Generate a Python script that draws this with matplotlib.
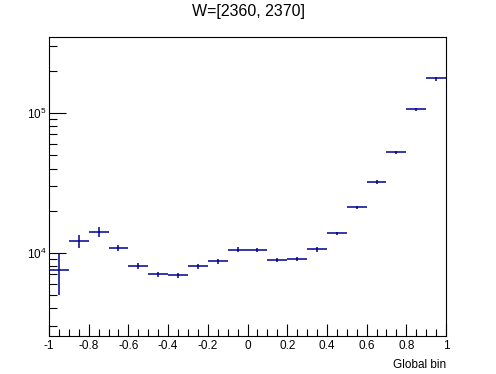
import numpy as np
import matplotlib
matplotlib.use("Agg")
import matplotlib.pyplot as plt
from matplotlib.ticker import MultipleLocator, LogLocator, NullFormatter, FixedLocator

plt.rcParams['font.family'] = ['Liberation Sans', 'DejaVu Sans']
plt.rcParams['mathtext.fontset'] = 'custom'
plt.rcParams['mathtext.rm'] = 'Liberation Sans'
plt.rcParams['mathtext.default'] = 'regular'

# bin edges and contents
edges = np.linspace(-1, 1, 21)
counts = [7520, 12060, 14130, 10860, 8075, 7015, 6900, 8000, 8680, 10500,
          10500, 8825, 8970, 10570, 13760, 21100, 32150, 52100, 105800, 176000]
errors = [2500, 1300, 1130, 510, 400, 315, 290, 300, 320, 430,
          320, 290, 300, 400, 410, 640, 900, 1450, 3200, 5800]

centers = 0.5 * (edges[:-1] + edges[1:])
halfw = 0.5 * np.diff(edges)

fig = plt.figure(figsize=(4.96, 3.74), dpi=100)
ax = fig.add_axes([0.0988, 0.1024, 0.8004, 0.7976])

ax.errorbar(centers, counts, xerr=halfw, yerr=errors, fmt='none',
            ecolor='#000090', elinewidth=1.1, capsize=0)

ax.set_yscale('log')
ax.set_xlim(-1, 1)
ax.set_ylim(2553, 346000)

ax.xaxis.set_major_locator(MultipleLocator(0.2))
ax.xaxis.set_minor_locator(MultipleLocator(0.05))
ax.xaxis.set_major_formatter(matplotlib.ticker.FuncFormatter(lambda v, p: '%g' % round(v, 2)))
ax.yaxis.set_major_locator(FixedLocator([1e4, 1e5]))
ax.yaxis.set_major_formatter(matplotlib.ticker.FuncFormatter(lambda v, p: '$10^{%d}$' % round(np.log10(v))))
ax.yaxis.set_minor_locator(LogLocator(base=10, subs=np.arange(2, 10)))
ax.yaxis.set_minor_formatter(NullFormatter())

ax.tick_params(which='both', direction='in', top=False, right=False, labelsize=8.5, width=0.8)
ax.tick_params(axis='x', which='major', length=9, pad=3)
ax.tick_params(axis='x', which='minor', length=5)
ax.tick_params(axis='y', which='major', length=12, pad=2)
ax.tick_params(axis='y', which='minor', length=6)
for s in ax.spines.values():
    s.set_linewidth(0.8)

ax.set_xlabel('Global bin', fontsize=8.5, loc='right', labelpad=5)
fig.text(0.5, 0.968, 'W=[2360, 2370]', ha='center', va='center', fontsize=11.5)

fig.savefig('out.png', dpi=100)
